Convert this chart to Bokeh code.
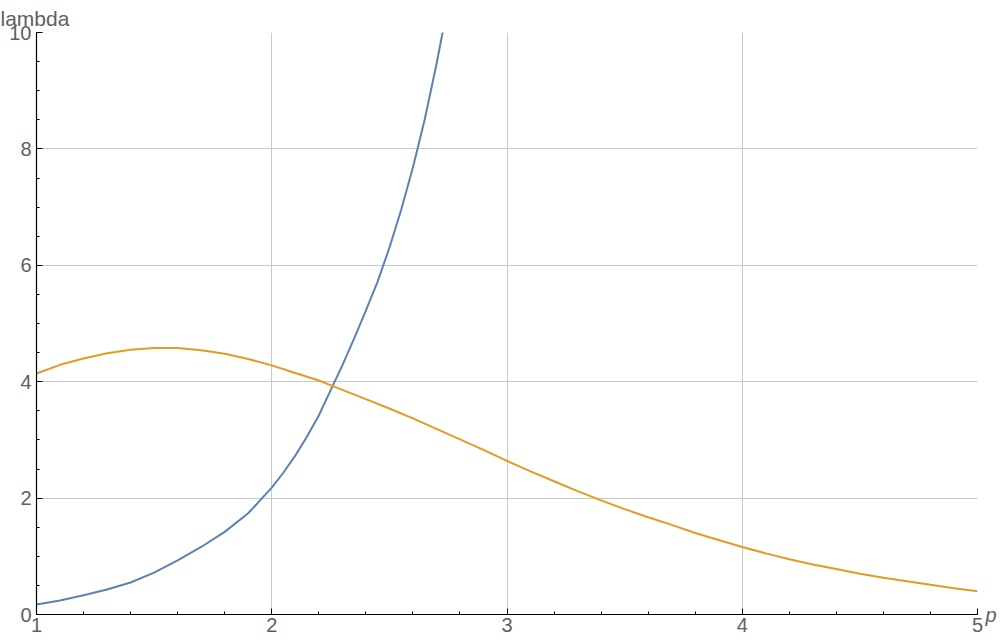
from bokeh.plotting import figure
from bokeh.models import Range1d, SingleIntervalTicker, FixedTicker, LinearAxis
from bokeh.embed import file_html
from bokeh.resources import INLINE

# Blue curve samples (p, lambda)
blue_p = [1.0, 1.1, 1.2, 1.3, 1.4, 1.5, 1.6, 1.7, 1.8, 1.9, 2.0, 2.05, 2.1, 2.15, 2.2, 2.25,
          2.3, 2.35, 2.4, 2.45, 2.5, 2.55, 2.6, 2.65, 2.7, 2.75]
blue_v = [0.17, 0.24, 0.33, 0.43, 0.55, 0.72, 0.93, 1.16, 1.42, 1.74, 2.18, 2.44, 2.73, 3.06, 3.42, 3.85,
          4.28, 4.74, 5.22, 5.72, 6.3, 6.95, 7.68, 8.5, 9.45, 10.5]

# Orange curve samples (p, lambda)
orange_p = [1.0, 1.1, 1.2, 1.3, 1.4, 1.5, 1.6, 1.7, 1.8, 1.9, 2.0, 2.1, 2.2, 2.3, 2.4, 2.5,
            2.6, 2.7, 2.8, 2.9, 3.0, 3.1, 3.2, 3.3, 3.4, 3.5, 3.6, 3.7, 3.8, 3.9, 4.0,
            4.1, 4.2, 4.3, 4.4, 4.5, 4.6, 4.7, 4.8, 4.9, 5.0]
orange_v = [4.14, 4.29, 4.40, 4.49, 4.55, 4.58, 4.58, 4.54, 4.48, 4.39, 4.28, 4.15, 4.02, 3.86, 3.70, 3.54,
            3.37, 3.19, 3.01, 2.83, 2.64, 2.46, 2.29, 2.12, 1.96, 1.81, 1.67, 1.54, 1.40, 1.28, 1.16,
            1.05, 0.95, 0.86, 0.78, 0.70, 0.63, 0.57, 0.51, 0.45, 0.40]

x_min, x_max = 1, 5
y_min, y_max = 0, 10
x_grid_ticks = [2, 3, 4]
y_grid_ticks = [2, 4, 6, 8, 10]

x_label = "p"
y_label = "lambda"
x_label_at = 0.0   # height (data units) where the "p" label sits beside the axis end

LABEL_COLOR = "#606060"
GRID_COLOR = "#c8c8c8"
FONT = "Liberation Sans"

p = figure(width=1000, height=644, output_backend="svg", toolbar_location=None,
           x_range=Range1d(x_min, x_max), y_range=Range1d(y_min, y_max),
           min_border_left=36, min_border_right=23, min_border_top=32, min_border_bottom=30)
p.outline_line_color = None
p.background_fill_color = "white"
p.border_fill_color = "white"

# "lambda" label at the top-left end of the vertical axis
p.title.text = y_label
p.title.align = "left"
p.title.offset = -36
p.title.standoff = 6
p.title.text_font = FONT
p.title.text_font_size = "21px"
p.title.text_font_style = "normal"
p.title.text_color = LABEL_COLOR

p.xaxis.ticker = SingleIntervalTicker(interval=1, num_minor_ticks=5)
p.yaxis.ticker = SingleIntervalTicker(interval=2, num_minor_ticks=4)
for ax in (p.xaxis[0], p.yaxis[0]):
    ax.axis_line_color = "black"
    ax.axis_line_width = 1.2
    ax.major_tick_in = 6
    ax.major_tick_out = 0
    ax.minor_tick_in = 3
    ax.minor_tick_out = 0
    ax.major_tick_line_color = "black"
    ax.minor_tick_line_color = "black"
    ax.major_label_text_font = FONT
    ax.major_label_text_font_size = "20px"
    ax.major_label_text_color = LABEL_COLOR
    ax.major_label_standoff = 3
p.yaxis.major_label_standoff = 5

# "p" label at the right end of the horizontal axis, drawn as the single label of a bare right axis
p_axis = LinearAxis(ticker=FixedTicker(ticks=[x_label_at], minor_ticks=[]),
                    major_label_overrides={x_label_at: x_label},
                    axis_line_color=None, major_tick_line_color=None, minor_tick_line_color=None,
                    major_tick_in=0, major_tick_out=0, minor_tick_in=0, minor_tick_out=0,
                    major_label_standoff=8, major_label_text_font=FONT,
                    major_label_text_font_size="20px", major_label_text_font_style="italic",
                    major_label_text_color=LABEL_COLOR)
p.add_layout(p_axis, "right")

p.xgrid.ticker = FixedTicker(ticks=x_grid_ticks)
p.ygrid.ticker = FixedTicker(ticks=y_grid_ticks)
p.grid.grid_line_color = GRID_COLOR
p.grid.grid_line_width = 1

p.line(blue_p, blue_v, line_color="#5e81b5", line_width=2)
p.line(orange_p, orange_v, line_color="#e19c24", line_width=2)

open("out.html", "w").write(file_html(p, INLINE))
